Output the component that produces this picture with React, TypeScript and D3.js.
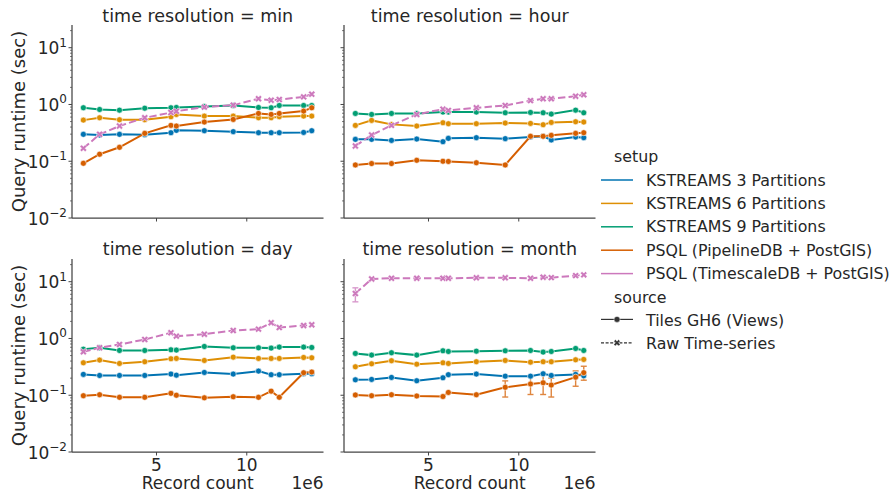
import * as d3 from 'd3';
import React from 'react';

// record count, in millions (axis offset "1e6")
const recordCounts = [0.95, 1.85, 2.95, 4.35, 5.8, 6.1, 7.65, 9.25, 10.65, 11.35, 11.8, 13.15, 13.6];

const setups = [
  'KSTREAMS 3 Partitions',
  'KSTREAMS 6 Partitions',
  'KSTREAMS 9 Partitions',
  'PSQL (PipelineDB + PostGIS)',
  'PSQL (TimescaleDB + PostGIS)',
];
const setupColors = ['#0173b2', '#de8f05', '#029e73', '#d55e00', '#cc78bc'];
const sources = ['Tiles GH6 (Views)', 'Raw Time-series'];
const resolutions = ['min', 'hour', 'day', 'month'];

// query runtime (sec), time resolution = min
const minKs3 = [0.298, 0.29, 0.298, 0.294, 0.318, 0.35, 0.345, 0.332, 0.318, 0.318, 0.318, 0.322, 0.345];
const minKs6 = [0.53, 0.583, 0.538, 0.538, 0.608, 0.667, 0.624, 0.624, 0.583, 0.583, 0.608, 0.624, 0.624];
const minKs9 = [0.875, 0.817, 0.795, 0.86, 0.875, 0.886, 0.92, 0.96, 0.886, 0.875, 0.96, 0.96, 0.96];
const minPipeline = [0.092, 0.133, 0.176, 0.31, 0.428, 0.417, 0.49, 0.545, 0.695, 0.668, 0.695, 0.764, 0.874];
const minTimescale = [0.169, 0.298, 0.417, 0.583, 0.72, 0.76, 0.898, 0.973, 1.26, 1.19, 1.22, 1.36, 1.52];

// time resolution = hour
const hourKs3 = [0.243, 0.243, 0.233, 0.246, 0.221, 0.253, 0.26, 0.25, 0.267, 0.275, 0.237, 0.267, 0.26];
const hourKs6 = [0.428, 0.524, 0.446, 0.417, 0.477, 0.458, 0.458, 0.47, 0.464, 0.44, 0.483, 0.496, 0.49];
const hourKs9 = [0.695, 0.668, 0.695, 0.695, 0.734, 0.734, 0.734, 0.714, 0.724, 0.714, 0.677, 0.795, 0.714];
const hourPipeline = [0.086, 0.091, 0.091, 0.104, 0.1, 0.099, 0.094, 0.086, 0.275, 0.275, 0.286, 0.31, 0.318];
const hourTimescale = [0.186, 0.29, 0.428, 0.668, 0.828, 0.785, 0.874, 0.96, 1.17, 1.26, 1.26, 1.4, 1.48];

// time resolution = day
const dayKs3 = [0.233, 0.223, 0.223, 0.223, 0.236, 0.226, 0.252, 0.236, 0.266, 0.23, 0.23, 0.239, 0.24];
const dayKs6 = [0.373, 0.416, 0.363, 0.389, 0.439, 0.445, 0.41, 0.469, 0.445, 0.445, 0.445, 0.463, 0.457];
const dayKs9 = [0.649, 0.685, 0.615, 0.615, 0.632, 0.624, 0.723, 0.685, 0.685, 0.676, 0.704, 0.704, 0.694];
const dayPipeline = [0.098, 0.102, 0.092, 0.092, 0.108, 0.1, 0.09, 0.094, 0.092, 0.118, 0.092, 0.249, 0.256];
const dayTimescale = [0.582, 0.685, 0.784, 0.96, 1.26, 1.1, 1.19, 1.38, 1.46, 1.89, 1.56, 1.69, 1.74];

// time resolution = month
const monthKs3 = [0.187, 0.19, 0.206, 0.18, 0.203, 0.23, 0.236, 0.217, 0.217, 0.239, 0.223, 0.233, 0.22];
const monthKs6 = [0.317, 0.358, 0.405, 0.353, 0.373, 0.363, 0.389, 0.41, 0.383, 0.389, 0.389, 0.421, 0.427];
const monthKs9 = [0.545, 0.509, 0.56, 0.509, 0.607, 0.59, 0.598, 0.607, 0.615, 0.575, 0.59, 0.667, 0.615];
const monthPipeline = [0.101, 0.098, 0.102, 0.097, 0.095, 0.112, 0.102, 0.138, 0.158, 0.166, 0.151, 0.208, 0.25];
const monthTimescale = [6.2, 11.2, 11.5, 11.5, 11.5, 11.5, 11.7, 11.7, 11.5, 12.0, 11.8, 12.8, 13.2];

// visible error bars (month panel only)
const monthPipelineLo = [null, null, null, null, null, null, null, 0.093, 0.103, 0.103, 0.093, 0.144, 0.184];
const monthPipelineHi = [null, null, null, null, null, null, null, 0.179, 0.22, 0.23, 0.2, 0.268, 0.324];
const monthTimescaleLo = [4.42, null, null, null, null, null, null, null, null, null, null, null, null];
const monthTimescaleHi = [7.8, null, null, null, null, null, null, null, null, null, null, null, null];

const yTickValues = [0.01, 0.1, 1, 10];
const yTickExponents = ['−2', '−1', '0', '1'];
const xTickValues = [5, 10];

const none = recordCounts.map(() => null);
const panelData = {
  min: { values: [minKs3, minKs6, minKs9, minPipeline, minTimescale], lo: [none, none, none, none, none], hi: [none, none, none, none, none] },
  hour: { values: [hourKs3, hourKs6, hourKs9, hourPipeline, hourTimescale], lo: [none, none, none, none, none], hi: [none, none, none, none, none] },
  day: { values: [dayKs3, dayKs6, dayKs9, dayPipeline, dayTimescale], lo: [none, none, none, none, none], hi: [none, none, none, none, none] },
  month: {
    values: [monthKs3, monthKs6, monthKs9, monthPipeline, monthTimescale],
    lo: [none, none, none, monthPipelineLo, monthTimescaleLo],
    hi: [none, none, none, monthPipelineHi, monthTimescaleHi],
  },
};
// source of each setup: PSQL Timescale is queried on raw series
const setupSource = [0, 0, 0, 0, 1];

const W = 894;
const H = 500;
const panelLeft = [72, 344];
const panelTop = [25, 259];
const panelW = 251.5;
const panelH = 193;
const xDomain = [0.32, 14.25];
const yDomain = [0.01, Math.pow(10, 1.4)];
const textColor = '#262626';
const spineColor = '#444';
const font = '"DejaVu Sans", sans-serif';

const crossPath = d3.symbol(d3.symbolCross, 30)();
const legendCross = d3.symbol(d3.symbolCross, 26)();

const Panel = ({ res, col, row }) => {
  const x0 = panelLeft[col];
  const y0 = panelTop[row];
  const x = d3.scaleLinear().domain(xDomain).range([x0, x0 + panelW]);
  const y = d3.scaleLog().domain(yDomain).range([y0 + panelH, y0]);
  const d = panelData[res];
  const line = d3.line<number>().x((_, i) => x(recordCounts[i])).y(v => y(v));

  const minorTicks: number[] = [];
  for (let e = -2; e <= 1; e++) {
    for (let k = 2; k <= 9; k++) {
      const v = k * Math.pow(10, e);
      if (v <= yDomain[1]) minorTicks.push(v);
    }
  }

  return (
    <g>
      <text x={x0 + panelW / 2} y={row === 0 ? 21.5 : 255} textAnchor="middle" fontSize={17.5} fill={textColor}>
        time resolution = {res}
      </text>
      {/* spines */}
      <line x1={x0} x2={x0} y1={y0} y2={y0 + panelH} stroke={spineColor} strokeWidth={1.25} />
      <line x1={x0} x2={x0 + panelW} y1={y0 + panelH} y2={y0 + panelH} stroke={spineColor} strokeWidth={1.25} />
      {/* y ticks */}
      {yTickValues.map((v, i) => (
        <g key={'yt' + i}>
          <line x1={x0 - 3.5} x2={x0} y1={y(v)} y2={y(v)} stroke={spineColor} strokeWidth={1} />
          {col === 0 && (
            <text x={x0 - 5} y={y(v) + 6.5} textAnchor="end" fontSize={17} fill={textColor}>
              10<tspan dy={-7.5} fontSize={12}>{yTickExponents[i]}</tspan>
            </text>
          )}
        </g>
      ))}
      {minorTicks.map((v, i) => (
        <line key={'ym' + i} x1={x0 - 2} x2={x0} y1={y(v)} y2={y(v)} stroke={spineColor} strokeWidth={0.7} />
      ))}
      {/* x ticks */}
      {xTickValues.map(v => (
        <g key={'xt' + v}>
          <line x1={x(v)} x2={x(v)} y1={y0 + panelH} y2={y0 + panelH + 3.5} stroke={spineColor} strokeWidth={1} />
          {row === 1 && (
            <text x={x(v)} y={y0 + panelH + 18.5} textAnchor="middle" fontSize={17} fill={textColor}>
              {v}
            </text>
          )}
        </g>
      ))}
      {row === 1 && (
        <g>
          <text x={x0 + panelW / 2} y={489} textAnchor="middle" fontSize={17} fill={textColor}>Record count</text>
          <text x={x0 + panelW} y={489} textAnchor="end" fontSize={17} fill={textColor}>1e6</text>
        </g>
      )}
      {col === 0 && (
        <text transform={`translate(24.5,${y0 + panelH / 2}) rotate(-90)`} textAnchor="middle" fontSize={18} fill={textColor}>
          Query runtime (sec)
        </text>
      )}
      {/* error bars */}
      {d.values.map((vals, s) =>
        vals.map((_, i) => {
          const lo = d.lo[s][i];
          const hi = d.hi[s][i];
          if (lo == null || hi == null) return null;
          const cx = x(recordCounts[i]);
          return (
            <g key={`eb${s}-${i}`} stroke={setupColors[s]} strokeWidth={1.4} opacity={0.75}>
              <line x1={cx} x2={cx} y1={y(lo)} y2={y(hi)} />
              <line x1={cx - 3} x2={cx + 3} y1={y(lo)} y2={y(lo)} />
              <line x1={cx - 3} x2={cx + 3} y1={y(hi)} y2={y(hi)} />
            </g>
          );
        })
      )}
      {/* lines and markers */}
      {d.values.map((vals, s) => (
        <g key={'s' + s}>
          <path
            d={line(vals) || ''}
            fill="none"
            stroke={setupColors[s]}
            strokeWidth={2}
            strokeDasharray={setupSource[s] === 1 ? '7.4,3.2' : undefined}
          />
          {vals.map((v, i) =>
            setupSource[s] === 1 ? (
              <path
                key={i}
                d={crossPath || ''}
                transform={`translate(${x(recordCounts[i])},${y(v)}) rotate(45)`}
                fill={setupColors[s]}
                stroke="#fff"
                strokeWidth={0.5}
              />
            ) : (
              <circle key={i} cx={x(recordCounts[i])} cy={y(v)} r={3} fill={setupColors[s]} stroke="#fff" strokeWidth={0.6} />
            )
          )}
        </g>
      ))}
    </g>
  );
};

const Legend = () => {
  const hx = 601;
  const tx = 646;
  const rowY = (i: number) => 180 + i * 23.4;
  return (
    <g fontSize={15.8} fill={textColor}>
      <text x={614} y={rowY(-1) + 5.5}>setup</text>
      {setups.map((name, i) => (
        <g key={name}>
          <line x1={hx} x2={hx + 32} y1={rowY(i)} y2={rowY(i)} stroke={setupColors[i]} strokeWidth={1.5} />
          <text x={tx} y={rowY(i) + 5.5}>{name}</text>
        </g>
      ))}
      <text x={614} y={rowY(5) + 5.5}>source</text>
      {sources.map((name, i) => {
        const cy = rowY(6 + i) - 1;
        return (
          <g key={name}>
            <line
              x1={hx}
              x2={hx + 32}
              y1={cy}
              y2={cy}
              stroke="#333"
              strokeWidth={1.2}
              strokeDasharray={i === 1 ? '3,1.6' : undefined}
            />
            {i === 0 ? (
              <circle cx={hx + 16} cy={cy} r={3} fill="#333" stroke="#fff" strokeWidth={0.5} />
            ) : (
              <path d={legendCross || ''} transform={`translate(${hx + 16},${cy}) rotate(45)`} fill="#333" stroke="#fff" strokeWidth={0.5} />
            )}
            <text x={tx} y={rowY(6 + i) + 5.5}>{name}</text>
          </g>
        );
      })}
    </g>
  );
};

export default function App() {
  return (
    <svg
      width={W}
      height={H}
      viewBox={`0 0 ${W} ${H}`}
      style={{ position: 'absolute', left: 0, top: 0, background: '#fff' }}
      fontFamily={font}
    >
      <rect width={W} height={H} fill="#fff" />
      {resolutions.map((res, i) => (
        <Panel key={res} res={res} col={i % 2} row={Math.floor(i / 2)} />
      ))}
      <Legend />
    </svg>
  );
}
